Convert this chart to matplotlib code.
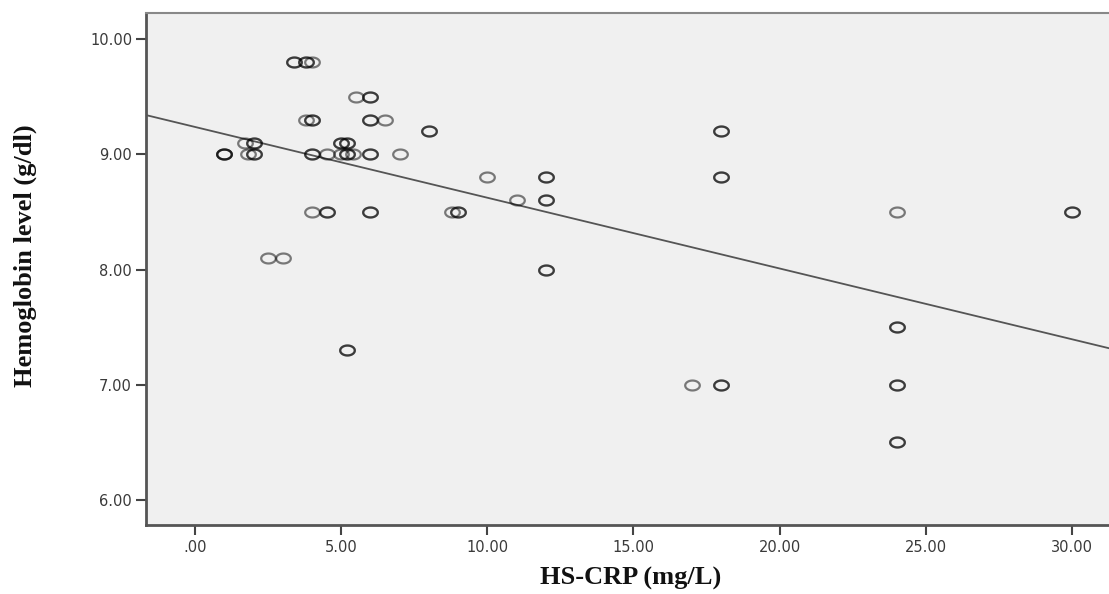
import numpy as np
import matplotlib
matplotlib.use("Agg")
import matplotlib.pyplot as plt
from matplotlib.path import Path

# ---- data ----
hs_crp = [1.0, 1.0, 1.0,
          1.7, 2.0, 2.0,
          1.8, 2.0, 2.0,
          2.5, 3.0,
          3.4, 3.4, 3.8, 3.8, 4.0,
          3.8, 4.0, 4.0,
          4.0, 4.0, 4.5,
          4.0, 4.5, 4.5,
          5.0, 5.0, 5.2, 5.2,
          5.0, 5.2, 5.2, 5.4,
          5.2, 5.2,
          5.5, 6.0, 6.0,
          6.0, 6.0, 6.5,
          6.0, 6.0, 7.0,
          6.0, 6.0,
          8.0, 8.0,
          8.8, 9.0, 9.0,
          10.0, 11.0,
          12.0, 12.0, 12.0, 12.0, 12.0, 12.0,
          17.0,
          18.0, 18.0, 18.0, 18.0, 18.0, 18.0,
          24.0, 24.0, 24.0, 24.0, 24.0, 24.0, 24.0,
          30.0, 30.0]
hemoglobin = [9.0, 9.0, 9.0,
              9.1, 9.1, 9.1,
              9.0, 9.0, 9.0,
              8.1, 8.1,
              9.8, 9.8, 9.8, 9.8, 9.8,
              9.3, 9.3, 9.3,
              9.0, 9.0, 9.0,
              8.5, 8.5, 8.5,
              9.1, 9.1, 9.1, 9.1,
              9.0, 9.0, 9.0, 9.0,
              7.3, 7.3,
              9.5, 9.5, 9.5,
              9.3, 9.3, 9.3,
              9.0, 9.0, 9.0,
              8.5, 8.5,
              9.2, 9.2,
              8.5, 8.5, 8.5,
              8.8, 8.6,
              8.8, 8.8, 8.6, 8.6, 8.0, 8.0,
              7.0,
              9.2, 9.2, 8.8, 8.8, 7.0, 7.0,
              8.5, 7.5, 7.5, 7.0, 7.0, 6.5, 6.5,
              8.5, 8.5]

# fit line (intercept, slope)
fit_intercept = 9.237
fit_slope = -0.0614

x_ticks = [0, 5, 10, 15, 20, 25, 30]
x_tick_labels = [".00", "5.00", "10.00", "15.00", "20.00", "25.00", "30.00"]
y_ticks = [6, 7, 8, 9, 10]
y_tick_labels = ["6.00", "7.00", "8.00", "9.00", "10.00"]

# ---- figure ----
W, H = 1109, 594
fig = plt.figure(figsize=(W / 100, H / 100), dpi=100)
left_px, right_px, top_px, bottom_px = 146, 1109, 13, 525
ax_w, ax_h = right_px - left_px, bottom_px - top_px
ax = fig.add_axes([left_px / W, 1 - bottom_px / H, ax_w / W, ax_h / H])
ax.set_facecolor("#f0f0f0")

xmin, xmax = -1.68, 31.27
ymin, ymax = 5.783, 10.226
ax.set_xlim(xmin, xmax)
ax.set_ylim(ymin, ymax)

# ellipse marker
t = np.linspace(0, 2 * np.pi, 60)
verts = np.column_stack([np.cos(t), 0.68 * np.sin(t)])
ell = Path(verts, closed=True)

ax.plot(hs_crp, hemoglobin, linestyle="none", marker=ell, markersize=10.5,
        markerfacecolor="none", markeredgecolor=(0, 0, 0, 0.5),
        markeredgewidth=1.6, zorder=3)

xl = np.array([xmin, xmax])
ax.plot(xl, fit_intercept + fit_slope * xl, color="#555555", lw=1.3, zorder=2)

tick_font = dict(family="DejaVu Sans", fontsize=10.5, color="#3a3a3a")
ax.set_xticks(x_ticks)
ax.set_xticklabels(x_tick_labels, **tick_font)
ax.set_yticks(y_ticks)
ax.set_yticklabels(y_tick_labels, **tick_font)

for s in ["left", "bottom"]:
    ax.spines[s].set_color("#555555")
    ax.spines[s].set_linewidth(2.0)
ax.spines["top"].set_color("#888888")
ax.spines["top"].set_linewidth(1.5)
ax.spines["right"].set_visible(False)

ax.tick_params(axis="both", direction="out", length=7, width=1.5,
               color="#444444")
ax.tick_params(axis="x", pad=4)
ax.tick_params(axis="y", pad=3)

ax.set_xlabel("HS-CRP (mg/L)", family="Liberation Serif", fontweight="bold",
              fontsize=19, color="#111111", va="center")
ax.set_ylabel("Hemoglobin level (g/dl)", family="Liberation Serif",
              fontweight="bold", fontsize=19, color="#111111", va="center")
ax.xaxis.set_label_coords((631 - left_px) / ax_w, (bottom_px - 578) / ax_h)
ax.yaxis.set_label_coords((25 - left_px) / ax_w, (bottom_px - 256) / ax_h)

fig.savefig("out.png", dpi=100, facecolor="white")
